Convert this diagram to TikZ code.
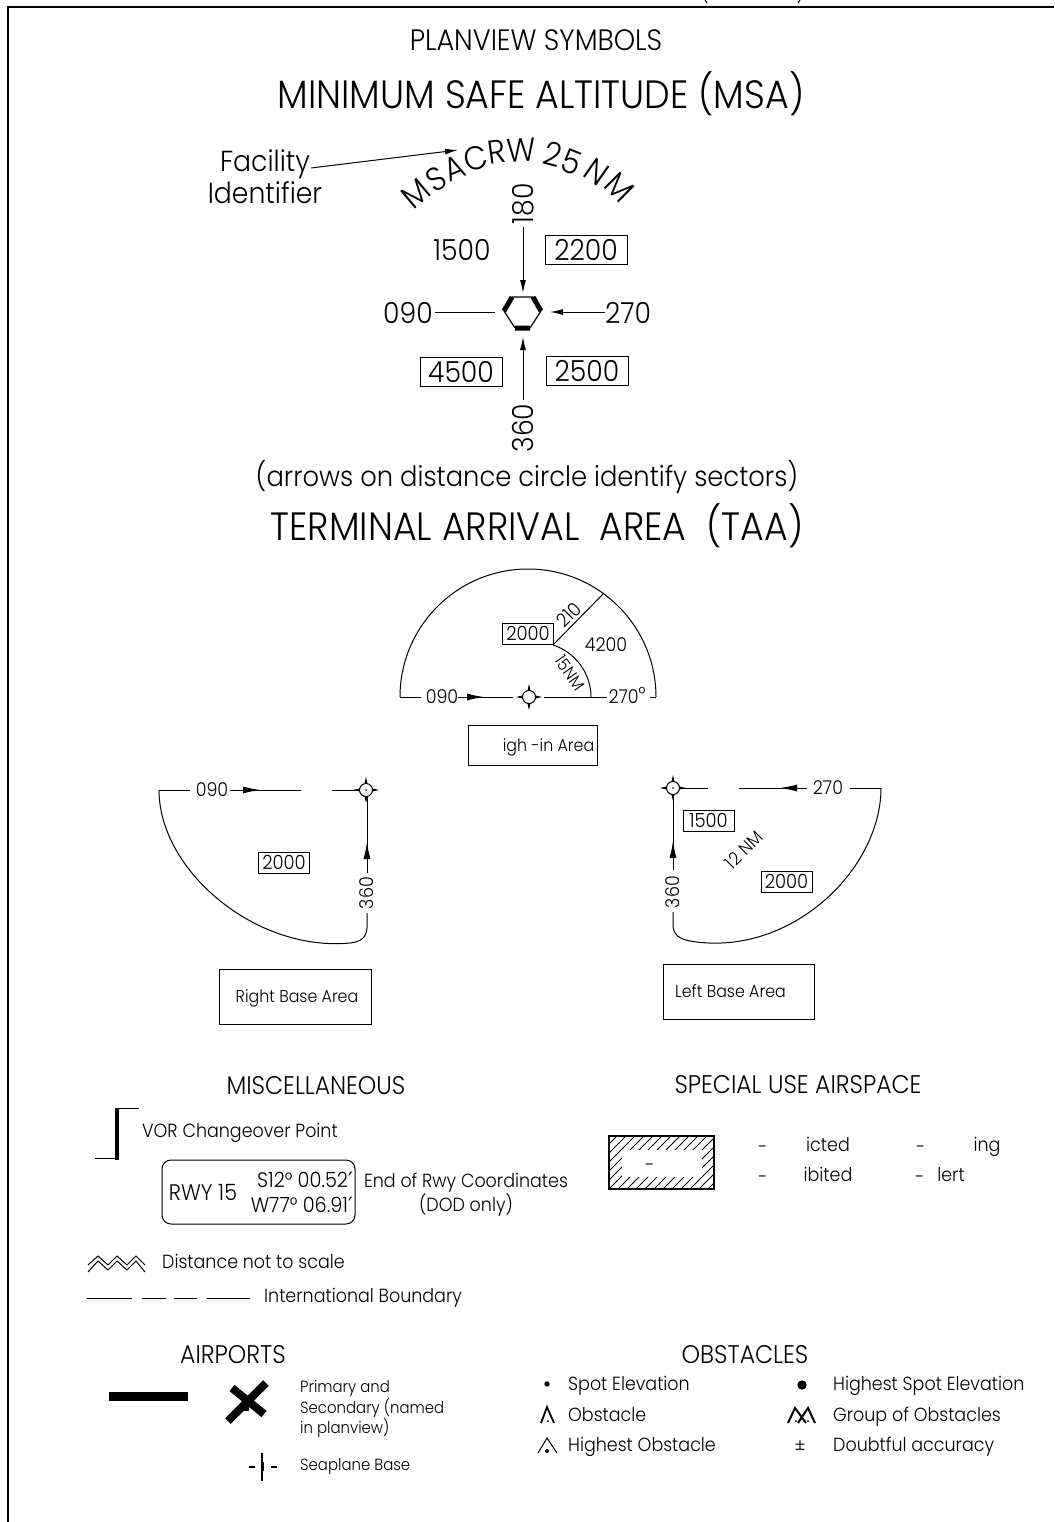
\documentclass[tikz,border=0pt]{standalone}
\usepackage{fontspec}
\setmainfont[FakeStretch=0.92]{Poppins Light}
\newfontfamily\primefont{DejaVu Sans}
\usetikzlibrary{arrows.meta, positioning}
\newcommand{\fsz}[1]{\fontsize{#1}{#1}\selectfont}
\newcommand{\minute}{{\primefont\fontsize{21}{21}\selectfont ′}}
\tikzset{
  lbl/.style={inner sep=0pt, font=\fsz{#1}, text height={0.7*#1 pt}, text depth=0pt},
  thinline/.style={line width=1pt},
  pointer/.style={line width=1pt, -{Latex[length=13pt, width=6pt]}},
  longtip/.style={line width=1pt, -{Latex[length=17pt, width=7pt]}},
  bigtitle/.style={lbl=39.5},
  midtitle/.style={lbl=29.5},
  secttitle/.style={lbl=25.5},
  msalabel/.style={lbl=29},
  msaletter/.style={lbl=33},
  msabox/.style={draw, lbl=29, line width=1pt, minimum width=82pt, minimum height=29pt},
  taalabel/.style={lbl=19},
  taabox/.style={draw, lbl=19.5, line width=1pt, minimum width=51pt, minimum height=21pt},
  areabox/.style={draw, lbl=17.2, line width=1pt},
  legend/.style={lbl=19, anchor=west},
  smalllegend/.style={lbl=16.2, anchor=west},
}
\begin{document}
\begin{tikzpicture}[x=1pt, y=-1pt]
      \useasboundingbox (0,0) rectangle (1054,1522);

      % Draw the frame
      \draw[line width=1.5pt] (8,1522) -- (8,7) -- (1054,7);
      \draw[thinline] (705,0) -- (707,3);
      \draw[thinline] (800,0) -- (798,3);

      % Titles
      \node[midtitle] (planview) at (536,40) {PLANVIEW SYMBOLS};
      \node[bigtitle] (msatitle) at (541,95) {MINIMUM SAFE ALTITUDE (MSA)};
      \node[lbl=28] (arrowsnote) at (527,477) {(arrows on distance circle identify sectors)};
      \node[bigtitle] (taatitle) at (537,527) {TERMINAL ARRIVAL\ \ AREA\ \ (TAA)};

      % Letters round the distance circle
      \foreach \ch/\xp/\yp/\rt in {M/416/193/40, S/436/179/30, A/454/168/22, C/476/158/15, R/497/152/8,
          W/521/150/3, 2/553/155/-15, 5/572/162/-22, N/597/172/-35, M/620/187/-45}
        \node[msaletter, rotate=\rt] at (\xp,\yp) {\ch};

      \node[msalabel] (facility) at (265,161) {Facility};
      \node[msalabel] (identifier) at (265,193) {Identifier};
      \coordinate (facstart) at (311,168);
      \coordinate (msaname) at (458,150);
      \draw[pointer] (facstart) -- (msaname);

      % Draw the MSA facility
      \coordinate (hexa) at (512,297);
      \coordinate (hexb) at (533,297);
      \coordinate (hexc) at (541,311);
      \coordinate (hexd) at (530,328);
      \coordinate (hexe) at (515,328);
      \coordinate (hexf) at (504,311);
      \draw[line width=1.2pt] (hexa) -- (hexb) (hexc) -- (hexd) (hexe) -- (hexf);
      \draw[line width=5pt] (hexb) -- (hexc) (hexd) -- (hexe) (hexf) -- (hexa);

      % Sector arrows
      \node[msalabel, rotate=90] (north) at (523,204) {180};
      \node[msalabel, rotate=90] (south) at (523,428) {360};
      \node[msalabel] (west) at (408,313) {090};
      \node[msalabel] (east) at (628,313) {270};
      \coordinate (northend) at (523,227);
      \coordinate (northtip) at (523,293);
      \coordinate (southend) at (523,400);
      \coordinate (southtip) at (523,337);
      \coordinate (westend) at (435,312);
      \coordinate (westtip) at (495,312);
      \coordinate (eastend) at (605,312);
      \coordinate (easttip) at (550,312);
      \draw[pointer] (northend) -- (northtip);
      \draw[pointer] (southend) -- (southtip);
      \draw[thinline] (westend) -- (westtip);
      \draw[pointer] (eastend) -- (easttip);

      \node[msalabel] (alta) at (462,250) {1500};
      \node[msabox] (altb) at (586,250) {2200};
      \node[msabox] (altc) at (461,372) {4500};
      \node[msabox] (altd) at (587,371) {2500};

      % Straight-in area
      \coordinate (arcleft) at (400,697);
      \coordinate (arcright) at (656,697);
      \coordinate (arcsector) at (604,593);
      \coordinate (innerend) at (553,645);
      \coordinate (innerbase) at (591,697);
      \node[taalabel] (sileft) at (442,697) {090};
      \node[taalabel] (siright) at (627,697) {270\raisebox{3pt}{°}};
      \node[taabox] (sialt) at (528,634) {2000};
      \node[taalabel] (siouter) at (606,645) {4200};
      \node[taalabel, rotate=45] (sibearing) at (569,615) {210};
      \node[lbl=17, rotate=-55] (sidist) at (570,673) {15NM};
      \node[areabox, minimum width=129pt, minimum height=40pt] (siarea) at (533,745) {\hspace{31pt}igh -in Area};
      \coordinate (sitailb) at (421,697);
      \coordinate (sishaft) at (458,697);
      \coordinate (sifix) at (513,697);
      \coordinate (sifixb) at (544,697);
      \coordinate (sitailc) at (607,697);
      \coordinate (sitaild) at (650,697);
      \draw[thinline] (sitailc) -- (sifixb);
      \draw[thinline] (arcleft) -- (sitailb);
      \draw[thinline] (sitaild) -- (arcright);
      \draw[thinline] (sishaft) -- (sifix);
      \draw[longtip] (sishaft) -- (484,697);
      \draw[thinline] (arcleft) arc[start angle=180, end angle=360, radius=128];
      \draw[thinline] (innerend) -- (arcsector);
      \draw[thinline] (innerend) .. controls (575,652) and (591,673) .. (innerbase);

      \coordinate (fixa) at (529,697);
      \coordinate (fixb) at (366,790);
      \coordinate (fixc) at (673,788);

      % Right base area
      \node[taalabel] (rblabel) at (212,790) {090};
      \node[taalabel, rotate=90] (rbcourse) at (367,893) {360};
      \node[taabox] (rbalt) at (284,862.5) {2000};
      \node[areabox, minimum width=152pt, minimum height=55pt] (rbarea) at (295,996.5) {\hspace{4pt}Right Base Area};
      \coordinate (rbcorner) at (159,790);
      \coordinate (rbtail) at (190,790);
      \coordinate (rbshaft) at (230,790);
      \coordinate (rbgap) at (301,790);
      \coordinate (rbgapb) at (332,790);
      \coordinate (rbup) at (367,873);
      \coordinate (rblow) at (367,913);
      \draw[thinline] (rbcorner) -- (rbtail);
      \draw[thinline] (rbshaft) -- (rbgap);
      \draw[longtip] (rbshaft) -- (260,790);
      \draw[thinline] (rbgapb) -- (fixb);
      \draw[thinline] (rbup) -- (367,797);
      \draw[longtip] (rbup) -- (367,842);
      \draw[thinline] (rblow) -- (367,927) .. controls (367,938) and (360,942) .. (350,943)
          .. controls (255,952) and (159,870) .. (rbcorner);

      % Left base area
      \node[taalabel] (lblabel) at (828,788) {270};
      \node[taalabel, rotate=90] (lbcourse) at (673,892) {360};
      \node[taabox] (lbalta) at (708.5,820.5) {1500};
      \node[taabox] (lbaltb) at (786.5,881.5) {2000};
      \node[lbl=18, rotate=45] (lbdist) at (744,850) {12 NM};
      \node[areabox, minimum width=151pt, minimum height=55pt] (lbarea) at (738.5,991.5) {\hspace{-16pt}Left Base Area};
      \coordinate (lbcorner) at (881,788);
      \coordinate (lbtail) at (850,788);
      \coordinate (lbshaft) at (807,788);
      \coordinate (lbgap) at (739,788);
      \coordinate (lbgapb) at (708,788);
      \coordinate (lbup) at (673,870);
      \coordinate (lblow) at (673,912);
      \draw[thinline] (lbcorner) -- (lbtail);
      \draw[thinline] (lbshaft) -- (lbgap);
      \draw[longtip] (lbshaft) -- (780,788);
      \draw[thinline] (lbgapb) -- (fixc);
      \draw[thinline] (lbup) -- (673,795);
      \draw[longtip] (lbup) -- (673,841);
      \draw[thinline] (lblow) -- (673,925) .. controls (673,935) and (680,939) .. (690,941)
          .. controls (790,958) and (881,870) .. (lbcorner);

      % Fix symbols
      \foreach \fx/\fy/\fname in {529/697/fixa, 366/790/fixb, 673/788/fixc} {
        \fill (\fx-3,\fy) -- (\fx,\fy-13) -- (\fx+3,\fy) -- (\fx,\fy+13) -- cycle;
        \fill (\fx,\fy-3) -- (\fx+13,\fy) -- (\fx,\fy+3) -- (\fx-13,\fy) -- cycle;
        \draw[thinline, fill=white] (\fname) circle (6.5);
      }
      \fill (fixb) circle (0.8);
      \fill (fixc) circle (0.8);

      % Miscellaneous
      \node[secttitle] (misctitle) at (316,1086) {MISCELLANEOUS};
      \node[legend] (vorlabel) at (142,1131) {VOR Changeover Point};
      \draw[line width=3.5pt] (117,1108) -- (117,1160);
      \draw[thinline] (117,1108) -- (139,1108);
      \draw[thinline] (117,1158) -- (95,1158);
      \node[draw, thinline, rounded corners=9pt, minimum width=193pt, minimum height=64pt] (rwybox) at (258.5,1192) {};
      \node[lbl=22.5] (rwyname) at (203,1193) {RWY 15};
      \node[lbl=21, anchor=east] (rwylat) at (353,1180) {S12° 00.52\minute};
      \node[lbl=21, anchor=east] (rwylon) at (353,1205) {W77° 06.91\minute};
      \node[lbl=19] (rwynotea) at (466,1181) {End of Rwy Coordinates};
      \node[lbl=19] (rwynoteb) at (466,1205) {(DOD only)};

      \draw[thinline] (88,1265) -- (98,1256) -- (108,1265) -- (117,1256) -- (127,1265) -- (136,1256) -- (145,1265);
      \draw[thinline] (88,1272) -- (98,1261) -- (108,1270) -- (117,1261) -- (127,1270) -- (136,1261) -- (145,1272);
      \node[legend] (scalelabel) at (162,1262) {Distance not to scale};
      \draw[thinline] (87,1298) -- (132,1298) (142,1298) -- (166,1298) (174,1298) -- (197,1298) (207,1298) -- (250,1298);
      \node[legend] (boundlabel) at (264,1296) {International Boundary};

      % Special use airspace
      \node[secttitle] (suatitle) at (798,1085) {SPECIAL USE AIRSPACE};
      \begin{scope}
        \clip (609,1136) rectangle (714,1189);
        \foreach \xa in {564,573,...,720}
          \draw[line width=0.8pt] (\xa,1189) -- (\xa+53,1136);
      \end{scope}
      \fill[white] (622,1150) rectangle (702,1177);
      \draw[line width=2.5pt] (609,1136) rectangle (714,1189);
      \node[taalabel] (suamark) at (650,1165) {-};
      \node[taalabel] (suaa) at (763,1147) {-};
      \node[taalabel] (suab) at (828,1145) {icted};
      \node[taalabel] (suac) at (921,1147) {-};
      \node[taalabel] (suad) at (987,1145) {ing};
      \node[taalabel] (suae) at (763,1177) {-};
      \node[taalabel] (suaf) at (828,1175) {ibited};
      \node[taalabel] (suag) at (920,1177) {-};
      \node[taalabel] (suah) at (951,1175) {lert};

      % Airports
      \node[secttitle] (airtitle) at (233,1355) {AIRPORTS};
      \fill (109,1392) rectangle (188,1401);
      \draw[line width=8pt] (266,1383) -- (228,1421);
      \draw[line width=8pt] (232,1388) -- (264,1414);
      \fill (243,1404) rectangle (249,1411);
      \node[smalllegend] (aira) at (300,1387) {Primary and};
      \node[smalllegend] (airb) at (300,1408) {Secondary (named};
      \node[smalllegend] (airc) at (300,1428) {in planview)};
      \draw[line width=1.5pt] (262,1453) -- (262,1481);
      \fill (260.5,1462) rectangle (263.5,1471);
      \draw[line width=1.5pt] (249,1467) -- (255,1467) (271,1467) -- (277,1467);
      \node[smalllegend] (seaplane) at (300,1465) {Seaplane Base};

      % Obstacles
      \node[secttitle] (obstitle) at (745,1355) {OBSTACLES};
      \fill (547,1384) circle (2.7);
      \fill (802,1385) circle (4.7);
      \node[legend] (spot) at (568,1384) {Spot Elevation};
      \node[legend] (highspot) at (833,1384) {Highest Spot Elevation};

      \draw[line width=1.8pt] (541,1423) -- (547,1407) -- (554,1423);
      \fill (548,1421) circle (1);
      \node[legend] (obstacle) at (568,1415) {Obstacle};
      \draw[line width=2pt] (788,1423) -- (795,1408) -- (806,1423);
      \draw[line width=2pt] (798,1423) -- (808,1408) -- (815,1423);
      \fill (796,1421) circle (1);
      \fill (808,1421) circle (1);
      \node[legend] (group) at (833,1415) {Group of Obstacles};

      \draw[thinline] (538,1453) -- (547,1438) -- (557,1453);
      \fill (547,1451) circle (2);
      \node[legend] (highobs) at (568,1445) {Highest Obstacle};
      \node[lbl=19] (doubtmark) at (800,1446) {±};
      \node[legend] (doubt) at (833,1445) {Doubtful accuracy};
\end{tikzpicture}
\end{document}
